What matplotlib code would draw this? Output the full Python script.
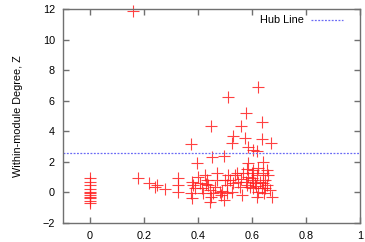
import matplotlib
matplotlib.use("Agg")
import matplotlib.pyplot as plt

plt.rcParams["font.family"] = ["Liberation Sans", "DejaVu Sans"]

participation = [
    0, 0, 0, 0, 0, 0, 0, 0, 0, 0, 0,
    0.16,
    0.512, 0.623, 0.578, 0.636, 0.559, 0.447, 0.531, 0.574, 0.636, 0.527,
    0.669, 0.374, 0.586, 0.605, 0.617, 0.451, 0.496, 0.395, 0.586, 0.642, 0.623,
    0.179, 0.22, 0.247, 0.241, 0.278, 0.325, 0.325, 0.325,
    0.377, 0.38, 0.374, 0.377, 0.40, 0.407, 0.414, 0.426, 0.432, 0.438,
    0.444, 0.447, 0.444, 0.464, 0.469, 0.481, 0.486, 0.496, 0.50, 0.506,
    0.512, 0.519, 0.525, 0.531, 0.537, 0.549, 0.556, 0.562, 0.568, 0.578,
    0.58, 0.586, 0.593, 0.599, 0.602, 0.605, 0.611, 0.617, 0.62, 0.623,
    0.63, 0.636, 0.642, 0.644, 0.648, 0.654, 0.66, 0.667, 0.673, 0.654,
    0.605, 0.58, 0.543, 0.469, 0.42, 0.457, 0.506, 0.39, 0.43, 0.60,
    0.64, 0.56, 0.49, 0.615, 0.65,
]
within_degree = [
    0.95, 0.7, 0.45, 0.2, 0.05, -0.05, -0.15, -0.3, -0.4, -0.55, -0.7,
    11.85,
    6.27, 6.88, 5.22, 4.63, 4.31, 4.31, 3.69, 3.54, 3.48, 3.21,
    3.21, 3.17, 2.99, 2.78, 2.68, 2.34, 2.38, 1.95, 1.9, 2.0, 1.57,
    0.96, 0.63, 0.48, 0.33, 0.22, 0.96, 0.04, 0.48,
    0.7, 0.48, -0.07, -0.4, 1.03, 0.63, 0.26, 1.14, 0.81, 0.48,
    0.15, -0.28, -0.61, 0.37, 0.81, 0.04, -0.17, -0.5, 0.81, 0.48,
    1.14, 0.81, 0.04, 0.59, 1.14, 0.7, 0.37, -0.17, 1.25, 0.7,
    0.48, 1.03, 0.37, 1.25, 0.81, 0.26, 0.59, 1.14, -0.28, 0.04,
    0.7, 0.26, 1.25, -0.07, 0.81, 0.48, 1.14, 0.15, -0.28, 1.46,
    1.46, 1.5, 1.25, 1.25, -0.07, -0.07, -0.07, 0.3, 0.55, 0.95,
    0.6, 0.9, 0.1, 0.4, 0.3,
]
hub_threshold = 2.55
x_ticks = [0, 0.2, 0.4, 0.6, 0.8, 1]
y_ticks = [-2, 0, 2, 4, 6, 8, 10, 12]

fig = plt.figure(figsize=(3.65, 2.42), dpi=100)
ax = fig.add_axes([0.173, 0.079, 0.813, 0.884])

ax.plot(participation, within_degree, linestyle="none", marker="+",
        markersize=9, markeredgewidth=0.8, color="#ff2020", alpha=0.85,
        clip_on=False)
ax.axhline(hub_threshold, color="#6a6af5", linestyle=(0, (1.5, 1.2)),
           linewidth=0.9, label="Hub Line")

ax.set_xlim(-0.1, 1.0)
ax.set_ylim(-2, 12)
ax.set_xticks(x_ticks)
ax.set_xticklabels([f"{t:g}" for t in x_ticks])
ax.set_yticks(y_ticks)
ax.tick_params(direction="in", length=4, width=1, color="#707070",
               labelsize=7.8, top=True, right=True, pad=6)
for s in ax.spines.values():
    s.set_color("#707070")
    s.set_linewidth(1)
ax.set_ylabel("Within-module Degree, Z", fontsize=7.8, labelpad=14)

leg = ax.legend(loc="upper right", frameon=False, markerfirst=False,
                fontsize=7.8, handlelength=3.0, handletextpad=0.6,
                borderaxespad=0.2, bbox_to_anchor=(0.965, 1.0))

fig.savefig("out.png", dpi=100)
